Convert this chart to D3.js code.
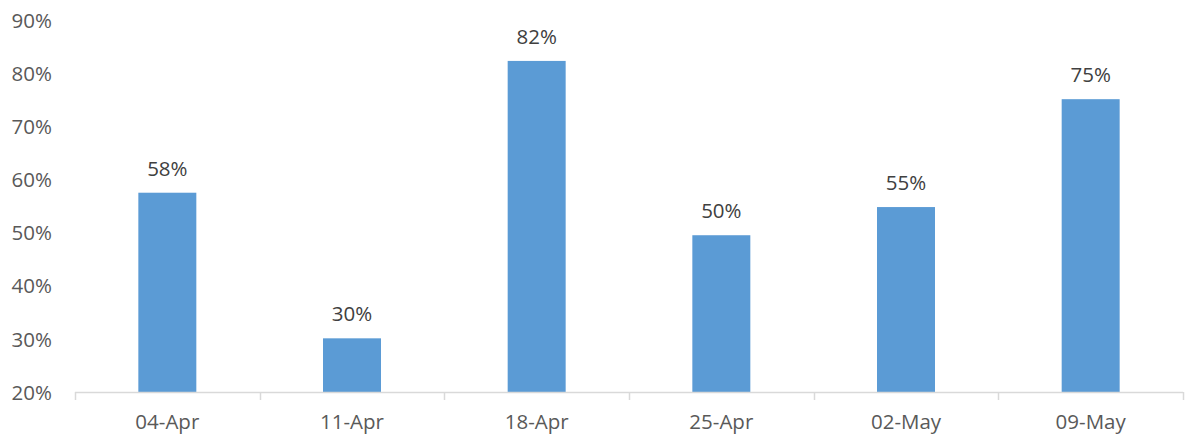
<!DOCTYPE html>
<html><head><meta charset="utf-8">
<script src="https://cdn.jsdelivr.net/npm/d3@7"></script>
<style>body{margin:0;background:#fff;}svg{display:block;}</style>
</head><body>
<script>
const categories = ["04-Apr","11-Apr","18-Apr","25-Apr","02-May","09-May"];
const values = [57.5, 30.1, 82.3, 49.5, 54.8, 75.1];
const labels = ["58%","30%","82%","50%","55%","75%"];
const yTicks = [20,30,40,50,60,70,80,90];

const W = 1191, H = 435;
const m = {left:75, right:8, top:20, bottom:43};
const svg = d3.select("body").append("svg").attr("width",W).attr("height",H);
const font = "'Open Sans', 'Noto Sans', sans-serif";
const fs = 20.5;

const x = d3.scaleBand().domain(categories).range([m.left, W-m.right]).paddingInner(0.686).paddingOuter(0.343);
const y = d3.scaleLinear().domain([20,90]).range([H-m.bottom, m.top]);

// bars
svg.selectAll("rect.bar").data(categories).enter().append("rect")
  .attr("x", d=>x(d)).attr("width", x.bandwidth())
  .attr("y", (d,i)=>y(values[i])).attr("height",(d,i)=>y(20)-y(values[i]))
  .attr("fill","#5b9bd5");

// data labels
svg.selectAll("text.lbl").data(categories).enter().append("text")
  .attr("x", d=>x(d)+x.bandwidth()/2).attr("y",(d,i)=>y(values[i])-17)
  .attr("text-anchor","middle").attr("font-family",font).attr("font-size",fs)
  .attr("fill","#404040").text((d,i)=>labels[i]);

// y axis labels
const yAxis = d3.axisLeft(y).tickValues(yTicks).tickFormat(d=>d+"%").tickSize(0).tickPadding(0);
const ga = svg.append("g").attr("transform",`translate(${m.left-23},0)`).call(yAxis);
ga.select(".domain").remove();
ga.selectAll("text").attr("font-family",font).attr("font-size",fs).attr("fill","#595959").attr("dy","0.35em");

// x axis
const base = y(20);
const bounds = d3.range(categories.length+1).map(i=>m.left + i*(W-m.right-m.left)/categories.length);
svg.append("line").attr("x1",m.left).attr("x2",W-m.right).attr("y1",base+0.5).attr("y2",base+0.5)
  .attr("stroke","#d9d9d9").attr("stroke-width",1.5);
svg.selectAll("line.tk").data(bounds).enter().append("line")
  .attr("x1",d=>Math.round(d)+0.5).attr("x2",d=>Math.round(d)+0.5).attr("y1",base).attr("y2",base+8)
  .attr("stroke","#d9d9d9").attr("stroke-width",1.5);
const xAxis = d3.axisBottom(x).tickSize(0).tickPadding(0);
const gx = svg.append("g").attr("transform",`translate(0,${base})`).call(xAxis);
gx.select(".domain").remove();
gx.selectAll("text").attr("font-family",font).attr("font-size",fs).attr("fill","#595959").attr("dy","0").attr("y",37);
</script>
</body></html>
